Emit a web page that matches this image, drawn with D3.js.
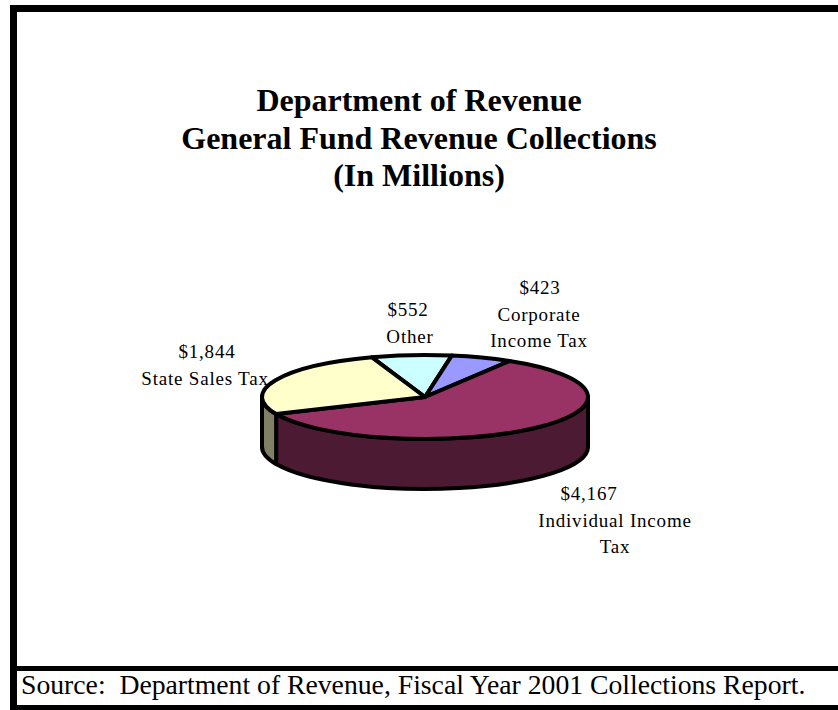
<!DOCTYPE html>
<html>
<head>
<meta charset="utf-8">
<script src="https://cdn.jsdelivr.net/npm/d3@7"></script>
<style>
  html, body { margin: 0; padding: 0; background: #fff; }
  svg { display: block; }
</style>
</head>
<body>
<svg id="chart" width="838" height="710"></svg>
<script>
// Revenue collections by source (millions of dollars), in slice order clockwise
const categories = ["Other", "Corporate Income Tax", "Individual Income Tax", "State Sales Tax"];
const values = [552, 423, 4167, 1844];
const valueLabels = ["$552", "$423", "$4,167", "$1,844"];
const nameLines = [["Other"], ["Corporate", "Income Tax"], ["Individual Income", "Tax"], ["State Sales Tax"]];
const titleLines = ["Department of Revenue", "General Fund Revenue Collections", "(In Millions)"];
const sourceText = "Source:  Department of Revenue, Fiscal Year 2001 Collections Report.";

const topColors = ["#CCFFFF", "#9999FF", "#993366", "#FFFFCC"];
const sideColors = ["#668080", "#4C4C80", "#4C1A33", "#808066"];

const W = 838, H = 710;
const svg = d3.select("#chart");
const serif = "'Liberation Serif', 'Times New Roman', serif";

// frame: thick left and top rules, separator above the source line, bottom rule
const frame = svg.append("g").attr("fill", "#000");
frame.append("rect").attr("x", 10).attr("y", 5).attr("width", 7).attr("height", 705);
frame.append("rect").attr("x", 10).attr("y", 5).attr("width", W - 10).attr("height", 7);
frame.append("rect").attr("x", 10).attr("y", 666).attr("width", W - 10).attr("height", 5);
frame.append("rect").attr("x", 10).attr("y", 705).attr("width", W - 10).attr("height", 5);

// title
svg.append("g").selectAll("text").data(titleLines).join("text")
  .attr("x", 419)
  .attr("y", (d, i) => 111 + i * 37.5)
  .attr("text-anchor", "middle")
  .attr("font-family", serif)
  .attr("font-weight", "bold")
  .attr("font-size", 32)
  .text(d => d);

// source note
svg.append("text")
  .attr("x", 21).attr("y", 694)
  .attr("font-family", serif)
  .attr("font-size", 27.7)
  .attr("xml:space", "preserve")
  .style("white-space", "pre")
  .text(sourceText);

// 3D pie geometry
const cx = 425, cy = 397, rx = 163, ry = 42, depth = 50;
const toRad = Math.PI / 180;
const start = -19 * toRad;
const pie = d3.pie().sort(null).startAngle(start).endAngle(start + 2 * Math.PI);
const arcs = pie(values);

const px = a => cx + rx * Math.sin(a);
const py = (a, dy = 0) => cy - ry * Math.cos(a) + dy;

function topPath(d) {
  const a0 = d.startAngle, a1 = d.endAngle;
  const large = (a1 - a0) > Math.PI ? 1 : 0;
  return `M${cx},${cy}L${px(a0)},${py(a0)}A${rx},${ry} 0 ${large} 1 ${px(a1)},${py(a1)}Z`;
}

// outer wall only where the slice faces the viewer (between 90° and 270°)
function sidePath(d) {
  const s = Math.max(d.startAngle, Math.PI / 2);
  const e = Math.min(d.endAngle, 3 * Math.PI / 2);
  if (e <= s) return null;
  return `M${px(s)},${py(s)}A${rx},${ry} 0 0 1 ${px(e)},${py(e)}` +
         `L${px(e)},${py(e, depth)}A${rx},${ry} 0 0 0 ${px(s)},${py(s, depth)}Z`;
}

const pieG = svg.append("g")
  .attr("stroke", "#000")
  .attr("stroke-width", 4)
  .attr("stroke-linejoin", "round");

pieG.selectAll("path.side").data(arcs.filter(d => sidePath(d))).join("path")
  .attr("class", "side")
  .attr("d", sidePath)
  .attr("fill", d => sideColors[d.index]);

pieG.selectAll("path.top").data(arcs).join("path")
  .attr("class", "top")
  .attr("d", topPath)
  .attr("fill", d => topColors[d.index]);

// data labels
const labelLayout = {
  "Other": { x: 410, y: 316, vx: 408 },
  "Corporate Income Tax": { x: 539, y: 294, vx: 540 },
  "Individual Income Tax": { x: 615, y: 500, vx: 589 },
  "State Sales Tax": { x: 205, y: 358, vx: 207 }
};
const lineGap = 26.5;

const labelG = svg.append("g")
  .attr("font-family", serif)
  .attr("font-size", 19)
  .attr("letter-spacing", 0.8)
  .attr("text-anchor", "middle");

categories.forEach((c, i) => {
  const L = labelLayout[c];
  const t = labelG.append("text");
  t.append("tspan").attr("x", L.vx).attr("y", L.y).text(valueLabels[i]);
  nameLines[i].forEach((ln, j) => {
    t.append("tspan").attr("x", L.x).attr("y", L.y + lineGap * (j + 1)).text(ln);
  });
});
</script>
</body>
</html>
